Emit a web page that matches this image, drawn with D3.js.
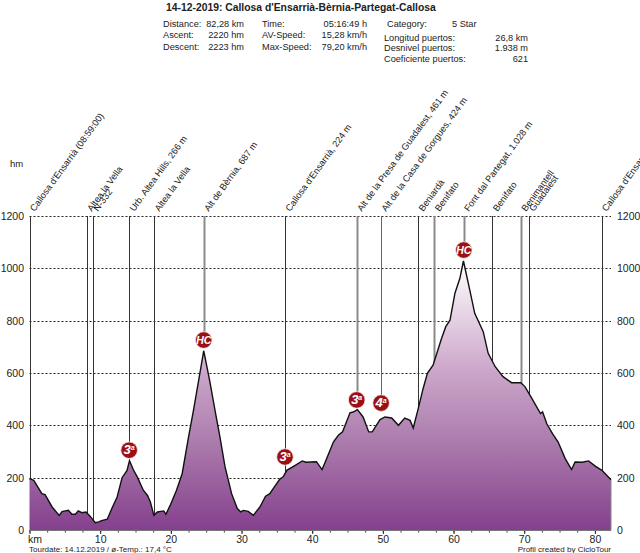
<!DOCTYPE html>
<html>
<head>
<meta charset="utf-8">
<script src="https://cdnjs.cloudflare.com/ajax/libs/d3/7.8.5/d3.min.js"></script>
<style>
  html, body { margin: 0; padding: 0; background: #fff; overflow: hidden; }
  svg { display: block; font-family: "Liberation Sans", Arial, sans-serif; fill: #222; }
</style>
</head>
<body>
<svg id="profile" width="640" height="553"></svg>
<script>
// profile
const profileKm = [0, 0.6, 1.75, 2.2, 3.2, 4.2, 4.6, 5.5, 6, 6.5, 6.9, 7.4, 8, 8.6, 9.3, 9.8, 10.2, 11, 11.65, 12.4, 13.1, 13.8, 14.15, 14.7, 15.3, 16.1, 16.7, 17.1, 17.6, 18.1, 19, 19.3, 19.9, 20.8, 21.6, 22.5, 23.2, 23.9, 24.65, 25.5, 26.25, 26.95, 27.67, 28.6, 29.4, 29.9, 30.25, 30.95, 31.67, 32.6, 33.4, 34, 34.7, 35.4, 35.9, 36.4, 37.6, 38.6, 39.1, 40.6, 41.4, 42.05, 43, 43.7, 44.3, 45.35, 45.8, 46.4, 47.2, 48, 48.5, 49.6, 50.3, 51.25, 52.2, 53.1, 53.85, 54.3, 55, 55.7, 56.3, 57.1, 58.3, 58.9, 59.5, 60.2, 60.9, 61.4, 62.3, 63, 64.2, 64.9, 65.9, 67, 68.2, 69.5, 70.1, 71.1, 72.3, 72.6, 73.2, 74, 74.8, 75.8, 76.7, 77.2, 78.2, 79.1, 80.1, 81, 82.28];
const profileEle = [196, 190, 139, 135, 88, 56, 70, 75, 60, 60, 73, 66, 69, 52, 28, 31, 36, 41, 82, 126, 200, 228, 265, 230, 200, 152, 132, 107, 56, 69, 73, 60, 94, 152, 215, 355, 457, 566, 685, 570, 457, 355, 241, 139, 82, 69, 75, 71, 56, 88, 129, 139, 167, 194, 203, 228, 247, 264, 259, 261, 231, 273, 336, 362, 375, 448, 451, 460, 432, 375, 375, 422, 432, 428, 400, 428, 419, 390, 464, 541, 599, 630, 732, 777, 802, 905, 962, 1028, 917, 828, 758, 675, 624, 586, 563, 563, 548, 502, 445, 451, 406, 368, 336, 273, 231, 260, 259, 264, 243, 228, 192];

const waypointKm = [0, 8.1, 9.0, 14.1, 17.65, 24.65, 36.15, 46.3, 49.75, 55, 57.3, 61.45, 65.5, 69.55, 70.65, 80.95];
const waypointNames = ["Callosa d'Ensarrià (08:59:00)", "Altea la Vella", "N-332", "Urb. Altea Hills, 266 m", "Altea la Vella", "Alt de Bèrnia, 687 m", "Callosa d'Ensarrià, 224 m", "Alt de la Presa de Guadalest, 461 m", "Alt de la Casa de Gorgues, 424 m", "Beniardà", "Benifato", "Font dal Partegat, 1.028 m", "Benifato", "Benimantell", "Guadalest", "Callosa d'Ensarrià"];

const climbKm = [14.1, 24.65, 36.15, 46.3, 49.75, 61.45];
const climbBadgeEle = [305, 726, 279, 497, 485, 1070];
const climbCat = ["3", "HC", "3", "3", "4", "HC"];

const xTicks = [0, 10, 20, 30, 40, 50, 60, 70, 80];
const xMinorTicks = d3.range(0, 82.28, 2.5);
const yTicks = [0, 200, 400, 600, 800, 1000, 1200];

const headerLeft = [["Distance:", "82,28 km"], ["Ascent:", "2220 hm"], ["Descent:", "2223 hm"]];
const headerMid = [["Time:", "05:16:49 h"], ["AV-Speed:", "15,28 km/h"], ["Max-Speed:", "79,20 km/h"]];
const headerPuertos = [["Longitud puertos:", "26,8 km"], ["Desnivel puertos:", "1.938 m"], ["Coeficiente puertos:", "621"]];

const svg = d3.select("#profile");
const x = d3.scaleLinear().domain([0, 82.28]).range([29.5, 611]);
const y = d3.scaleLinear().domain([0, 1200]).range([530, 216]);
const profile = profileKm.map((km, i) => ({ km, ele: profileEle[i] }));

// fill fades from purple at the bottom to white at the summit
const grad = svg.append("defs").append("linearGradient")
  .attr("id", "fade").attr("gradientUnits", "userSpaceOnUse")
  .attr("x1", 0).attr("x2", 0).attr("y1", y(0)).attr("y2", y(1028));
grad.append("stop").attr("offset", 0).attr("stop-color", "#84408d");
grad.append("stop").attr("offset", 0.3).attr("stop-color", "#a877aa");
grad.append("stop").attr("offset", 0.6).attr("stop-color", "#cda8cb");
grad.append("stop").attr("offset", 1).attr("stop-color", "#ffffff");

// grid
svg.append("g").selectAll("line").data(yTicks.filter(d => d > 0)).join("line")
  .attr("x1", x(0)).attr("x2", x(82.28))
  .attr("y1", d => Math.round(y(d)) + 0.5).attr("y2", d => Math.round(y(d)) + 0.5)
  .attr("stroke", "#222").attr("stroke-dasharray", "2,2");

// vertical waypoint lines, the climbs stop at their badge
const wideLines = [5, 7, 10, 11, 13];
svg.append("g").selectAll("line").data(waypointKm).join("line")
  .attr("x1", d => Math.round(x(d)) + 0.5).attr("x2", d => Math.round(x(d)) + 0.5)
  .attr("y1", y(1200))
  .attr("y2", d => {
    const c = climbKm.indexOf(d);
    return c >= 0 && d !== 36.15 ? y(climbBadgeEle[c]) : y(0);
  })
  .attr("stroke", (d, i) => wideLines.includes(i) ? "#8a8a8a" : i === 8 ? "#666" : "#333")
  .attr("stroke-width", (d, i) => wideLines.includes(i) ? 2 : 1);

// profile
svg.append("path").datum(profile)
  .attr("fill", "url(#fade)")
  .attr("d", d3.area().x(d => x(d.km)).y0(y(0)).y1(d => y(d.ele)));
svg.append("path").datum(profile)
  .attr("fill", "none").attr("stroke", "#111").attr("stroke-width", 1.4)
  .attr("d", d3.line().x(d => x(d.km)).y(d => y(d.ele)));

// axes
const axisText = g => {
  g.select(".domain").remove();
  g.selectAll("text").attr("fill", "#222").style("font-size", "10.5px").style("font-family", "inherit");
};
svg.append("g").attr("transform", `translate(0,${y(0)})`)
  .call(d3.axisBottom(x).tickValues(xMinorTicks).tickFormat("").tickSize(2.5))
  .call(g => g.select(".domain").remove())
  .call(g => g.selectAll("line").attr("stroke", "#333"));
svg.append("g").attr("transform", `translate(0,${y(0)})`)
  .call(d3.axisBottom(x).tickValues(xTicks).tickFormat(d => d === 0 ? "" : d).tickSize(4).tickPadding(2))
  .call(axisText)
  .call(g => g.selectAll("line").attr("stroke", "#222"));
svg.append("g").attr("transform", "translate(24,0)")
  .call(d3.axisLeft(y).tickValues(yTicks).tickFormat(d3.format("d")).tickSize(0).tickPadding(0))
  .call(axisText);
svg.append("g").attr("transform", "translate(617,0)")
  .call(d3.axisRight(y).tickValues(yTicks).tickFormat(d3.format("d")).tickSize(0).tickPadding(0))
  .call(axisText);

svg.append("line").attr("x1", x(0)).attr("x2", x(82.28)).attr("y1", y(0) + 0.5).attr("y2", y(0) + 0.5).attr("stroke", "#777");
svg.append("line").attr("x1", x(82.28)).attr("x2", x(82.28)).attr("y1", y(192)).attr("y2", y(0)).attr("stroke", "#888");

// rotated waypoint names
svg.append("g").selectAll("text").data(waypointKm).join("text")
  .attr("transform", d => `translate(${x(d) + 5},${y(1200) - 4}) rotate(-54)`)
  .style("font-size", "9.2px")
  .text((d, i) => waypointNames[i]);

// climb badges
const badge = svg.append("g").selectAll("g").data(climbKm).join("g")
  .attr("transform", (d, i) => `translate(${x(d)},${y(climbBadgeEle[i])})`);
badge.append("circle").attr("r", 8.3).attr("fill", "#9c0f14").attr("stroke", "#f4e4e4").attr("stroke-width", 0.8);
const badgeText = badge.append("text")
  .attr("text-anchor", "middle").attr("y", 4)
  .attr("fill", "#fff")
  .style("font-weight", "bold").style("font-style", "italic")
  .style("font-size", (d, i) => climbCat[i] === "HC" ? "10.5px" : "13px");
badgeText.append("tspan").text((d, i) => climbCat[i]);
badgeText.append("tspan").attr("dy", -4).style("font-size", "7px").text((d, i) => climbCat[i] === "HC" ? "" : "a");

// header
const label = (tx, ty, str, size, anchor) => svg.append("text")
  .attr("x", tx).attr("y", ty)
  .attr("text-anchor", anchor || "start")
  .style("font-size", (size || 9.2) + "px")
  .text(str);

label(166, 11, "14-12-2019: Callosa d'Ensarrià-Bèrnia-Partegat-Callosa", 10.35).style("font-weight", "bold");
headerLeft.forEach((r, i) => {
  label(163, 26.5 + i * 11.5, r[0]);
  label(244, 26.5 + i * 11.5, r[1], 9.2, "end");
});
headerMid.forEach((r, i) => {
  label(262, 26.5 + i * 11.5, r[0]);
  label(367, 26.5 + i * 11.5, r[1], 9.2, "end");
});
label(387, 26.5, "Category:");
label(452, 26.5, "5 Star");
headerPuertos.forEach((r, i) => {
  label(384, 40.5 + i * 10.6, r[0]);
  label(528, 40.5 + i * 10.6, r[1], 9.2, "end");
});

label(10, 167, "hm", 9.5);
label(28, 543, "km", 10.5);
label(29, 552, "Tourdate: 14.12.2019  /  ø-Temp.: 17,4 °C", 8);
label(611, 552, "Profil created by CicloTour", 8, "end");
</script>
</body>
</html>
